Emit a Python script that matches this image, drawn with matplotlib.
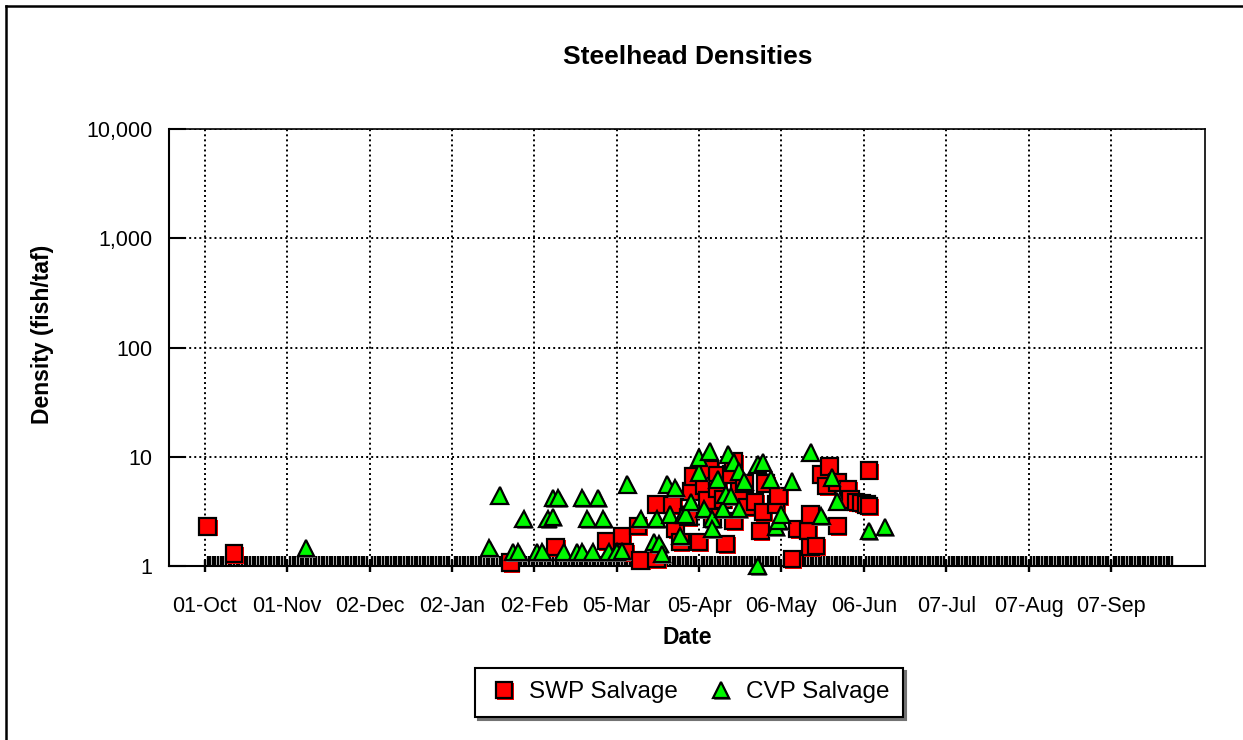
import datetime as dt
import matplotlib
matplotlib.use("Agg")
import matplotlib.pyplot as plt
import matplotlib.dates as mdates
import matplotlib.patheffects as pe
from matplotlib.lines import Line2D
from matplotlib.ticker import FixedLocator, FuncFormatter


# -------------------------------------------------
# Data (day offset from 01-Oct, density fish/taf)
# -------------------------------------------------
START = dt.date(2009, 10, 1)

swp_day = [1, 11, 115, 132, 151, 157, 158, 163, 164, 170, 170, 176, 177, 179,
           182, 183, 184, 186, 188, 189, 190, 191, 193, 193, 195, 196, 198,
           199, 199, 201, 203, 204, 207, 209, 210, 211, 215, 216, 221, 223,
           227, 228, 228, 230, 232, 234, 235, 238, 238, 242, 243, 245, 247,
           249, 250, 250]
swp_density = [2.3, 1.3, 1.07, 1.49, 1.69, 1.88, 1.34, 2.32, 1.13, 1.16, 3.68,
               3.61, 2.18, 1.66, 2.8, 4.84, 6.64, 1.66, 5.49, 4.0, 7.69, 2.8,
               6.78, 5.05, 4.09, 1.59, 6.92, 2.58, 9.1, 4.84, 5.73, 3.46, 3.84,
               2.09, 3.11, 5.73, 3.68, 4.36, 1.16, 2.18, 2.09, 1.49, 2.98, 1.52,
               6.92, 5.38, 8.19, 5.85, 2.32, 5.05, 4.09, 3.84, 3.76, 3.68, 7.53,
               3.53]

cvp_day = [38, 107, 111, 116, 118, 120, 125, 127, 129, 131, 131, 133, 135, 140,
           142, 142, 144, 146, 148, 150, 152, 155, 157, 159, 164, 169, 170, 171,
           172, 174, 175, 177, 179, 180, 181, 183, 186, 186, 188, 190, 191, 191,
           193, 195, 196, 197, 198, 199, 201, 201, 203, 208, 208, 210, 213, 215,
           216, 217, 221, 228, 232, 236, 238, 250, 256]
cvp_density = [1.46, 1.46, 4.45, 1.34, 1.34, 2.69, 1.34, 1.34, 2.69, 2.8, 4.18,
               4.18, 1.34, 1.34, 1.34, 4.18, 2.69, 1.34, 4.18, 2.69, 1.34, 1.34,
               1.37, 5.61, 2.69, 1.66, 2.69, 1.59, 1.29, 5.61, 2.98, 5.16, 1.88,
               2.98, 2.98, 3.84, 7.22, 9.9, 3.32, 11.2, 2.69, 2.18, 6.23, 3.32,
               4.54, 10.5, 4.36, 8.9, 3.32, 7.37, 5.97, 8.54, 1.0, 8.9, 6.23,
               2.27, 2.58, 2.98, 5.97, 11.0, 2.86, 6.5, 3.92, 2.09, 2.27]

tick_days = [0, 31, 62, 93, 124, 155, 186, 217, 248, 279, 310, 341]
y_ticks = [1, 10, 100, 1000, 10000]


def to_dates(days):
    return [START + dt.timedelta(days=d) for d in days]


# -------------------------------------------------
# Figure
# -------------------------------------------------
plt.rcParams["font.family"] = ["Liberation Sans", "DejaVu Sans"]

W, H = 1243, 740
fig = plt.figure(figsize=(W / 100, H / 100), dpi=100)
ax = fig.add_axes([169 / W, 1 - 566 / H, (1205 - 169) / W, (566 - 129) / H])

ax.plot(
    to_dates(swp_day), swp_density,
    ls="none", marker="s", ms=12, mfc="#FF0000", mec="black", mew=1.6,
    clip_on=False, zorder=3, label="SWP Salvage",
    path_effects=[pe.SimplePatchShadow(offset=(1.2, -1.2),
                                       shadow_rgbFace="#FF0000", alpha=1),
                  pe.Normal()]
)

ax.plot(
    to_dates(cvp_day), cvp_density,
    ls="none", marker="^", ms=12, mfc="#00F800", mec="black", mew=1.6,
    clip_on=False, zorder=4, label="CVP Salvage",
    path_effects=[pe.SimplePatchShadow(offset=(1.0, -1.0),
                                       shadow_rgbFace="0.45", alpha=1),
                  pe.Normal()]
)

# -------------------------------------------------
# Axes
# -------------------------------------------------
ax.set_yscale("log")
ax.set_ylim(1, 10000)
ax.yaxis.set_major_locator(FixedLocator(y_ticks))
ax.yaxis.set_minor_locator(FixedLocator([]))
ax.yaxis.set_major_formatter(FuncFormatter(lambda v, p: f"{v:,.0f}"))

start_num = mdates.date2num(START)
ax.set_xlim(start_num - 13.5, start_num + 376.4)
ax.xaxis.set_major_locator(FixedLocator(mdates.date2num(to_dates(tick_days))))
ax.xaxis.set_major_formatter(mdates.DateFormatter("%d-%b"))
ax.xaxis.set_minor_locator(FixedLocator(mdates.date2num(to_dates(range(365)))))

ax.tick_params(axis="x", which="minor", direction="in", length=7.5,
               width=1.7, color="black")
ax.tick_params(axis="x", which="major", direction="inout", length=9,
               width=1.7, labelsize=15.5, pad=17)
ax.tick_params(axis="y", which="major", direction="in", length=12,
               width=1.5, labelsize=15.5, pad=12)

ax.grid(True, which="major", color="black", ls=(0, (1, 1.6)), lw=1.4)
ax.set_axisbelow(True)

for side in ["left", "bottom"]:
    ax.spines[side].set_linewidth(1.5)
for side in ["top", "right"]:
    ax.spines[side].set_linewidth(1.2)

ax.set_xlabel("Date", fontsize=16.5, fontweight="bold")
ax.xaxis.set_label_coords(0.5, -0.138)
ax.set_ylabel("Density (fish/taf)", fontsize=16.5, fontweight="bold",
              va="center")
ax.yaxis.set_label_coords(-0.1225, 0.53)

fig.text(688 / W, 1 - 57 / H, "Steelhead Densities", ha="center",
         va="center", fontsize=19, fontweight="bold")

# -------------------------------------------------
# Legend
# -------------------------------------------------
leg = fig.legend(
    loc="upper center", bbox_to_anchor=(689 / W, 1 - 668 / H), ncol=2,
    frameon=True, fancybox=False, edgecolor="black", framealpha=1,
    shadow={"color": "0.45", "alpha": 1},
    fontsize=17.5, handlelength=1.3, handletextpad=0.4,
    columnspacing=1.1, borderpad=0.55, borderaxespad=0, numpoints=1
)
leg.get_frame().set_linewidth(1.5)

# -------------------------------------------------
# Outer border (top and left)
# -------------------------------------------------
fig.add_artist(Line2D([6 / W, 1], [1 - 6 / H, 1 - 6 / H], color="black",
                      lw=1.8, transform=fig.transFigure))
fig.add_artist(Line2D([6 / W, 6 / W], [0, 1 - 6 / H], color="black",
                      lw=1.8, transform=fig.transFigure))

fig.savefig("out.png", dpi=100)
